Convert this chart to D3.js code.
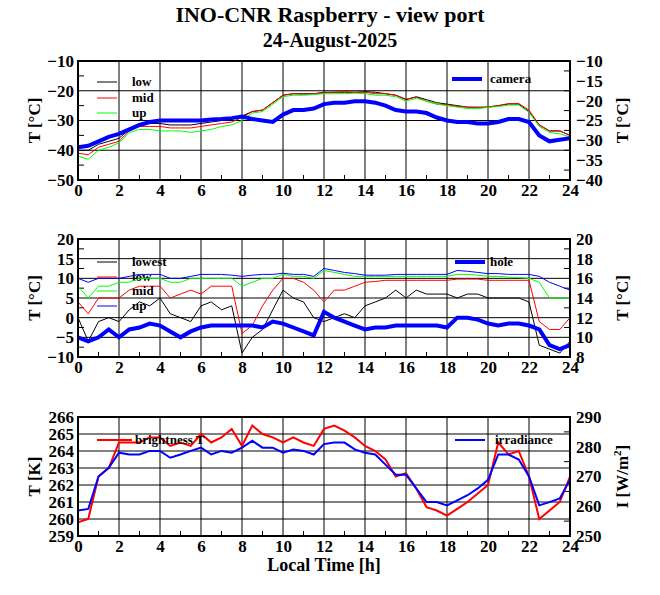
<!DOCTYPE html>
<html><head><meta charset="utf-8">
<script src="https://cdn.jsdelivr.net/npm/d3@7"></script>
<style>body{margin:0;background:#fff}text{font-family:"Liberation Serif",serif;font-weight:bold}</style>
</head><body><div id="chart"></div>
<script>
// hours 0..24, half-hour steps
const hours = d3.range(0, 24.01, 0.5);

// panel 1 (deg C)
const low1   = [-40,-40,-38,-37,-36,-33,-31.5,-31,-31,-31.5,-31.5,-31.5,-31,-30.5,-30,-29.5,-28.5,-27,-26.5,-24,-21.5,-21,-21,-21,-20.5,-20.5,-20.5,-20.5,-20.3,-20.5,-21,-21.5,-23,-22,-23,-24,-24.5,-25,-25.5,-25.5,-25.5,-25,-24.5,-24.5,-27,-31.5,-33.5,-33.5,-35];
const mid1   = [-41,-41.5,-39,-38,-37,-33.5,-32,-32,-32,-32.5,-32.5,-32.5,-32,-31.5,-31,-30.5,-29,-27,-26.5,-24,-21.5,-21,-21.2,-21,-20.7,-20.5,-20.3,-20.5,-20.5,-21,-21,-21.5,-22.8,-22.2,-23.5,-24.5,-24.7,-25.3,-25.5,-25.8,-25.4,-25,-24.3,-24.3,-26.5,-31.5,-33.5,-33.5,-35];
const up1    = [-42,-43,-40,-39,-37.5,-34,-33,-33,-33.5,-33.5,-33.5,-34,-33.5,-33,-32,-31.5,-30,-27.5,-27,-24.5,-22,-21.5,-21.5,-21.3,-21,-21,-21,-20.8,-21,-21.5,-21.5,-22,-23.5,-22.5,-23.5,-24.5,-25,-25.5,-26,-26,-25.6,-25.3,-24.8,-24.8,-27.2,-32,-34,-34.5,-35.5];
const camera = [-39,-38.5,-37,-35.5,-34.5,-33,-31.5,-30.5,-30,-30,-30,-30,-30,-29.7,-29.5,-29.2,-28.7,-29.5,-30,-30.5,-28,-26.5,-26.5,-26,-24.5,-24,-24,-23.5,-23.5,-24,-25,-26.5,-27,-27,-27.5,-29,-30,-30.5,-30.5,-31,-31,-30.5,-29.5,-29.5,-30.5,-35,-37,-36.5,-36];

// panel 2 (deg C)
const lowest2 = [0,-6,-1,0,-1,2,4,3,5,1,0,-1,3,4,2,3,-9,-5,-3,2,7,5,4,0,-1,0,1,0,3,4,5,7,5,7,6,6,6,5,6,6,5,5,5,5,4,-7,-8,-9,-6];
const low2    = [4,1,5,5,5,7,8,8,8,5,6,7,6,8,8,8,-4,-2,3,7,10,10,9,7,4,7,7,8,9,9.2,9.5,9.5,9.5,9.5,9.5,9.5,9.5,9.8,9.8,9.8,9.5,9.5,9.5,9.5,9.5,-1,-3,-3,0];
const mid2    = [8,5,8,8,9,9,10,10,10,9,9,10,10,10,10,10,8,9,10,10,11,10.5,10.5,10,12,11.5,11,10.5,10.5,10.5,10.5,10.5,10.5,10.5,10.5,10.5,10.5,11,11,10.8,10.5,10.5,10.3,10.2,10,9,5,5,5];
const up2     = [10,9,10,10,10,10.5,11,11,11,10,10,10.5,11,11,11,10.8,10.5,10.8,11,11,11.3,11,11,10.5,12.5,12,11.5,11.2,10.8,10.8,10.8,11,11,11,11,11,11,12,11.8,11.5,11.2,11.2,11,11,11,10.5,9,8,7];
const hole    = [-5,-6,-5,-3,-5,-3,-2.5,-1.5,-2,-3.5,-5,-3.5,-2.5,-2,-2,-2,-2,-2,-2.5,-1,-1.5,-2.5,-3.5,-4.5,1.5,0,-1,-2,-3,-2.5,-2.5,-2,-2,-2,-2,-2,-2.5,0,0,-0.5,-1.5,-2,-1.5,-1.5,-2,-3,-7,-8,-7];

// panel 3
const brightness = [259.8,260,262.5,263,264.5,264.5,264.5,264.8,264.8,264.3,264.5,264.3,265,264.5,264.8,265.3,264.3,265.5,265,264.8,264.5,264.8,264.5,264.3,265.3,265.5,265.2,264.8,264.3,264,263.5,262.5,262.7,261.8,260.7,260.5,260.2,260.6,261,261.5,262,264.5,263.8,264,262.5,260,260.5,261,262.5];
const irradiance = [258.6,259.1,270,272.9,278,277.4,277.4,278.6,278.6,276.3,277.4,278.6,279.7,277.4,278.6,278,279.7,282,279.7,279.7,278,279.1,278.6,277.4,280.9,281.4,281.4,279.1,278,277.4,274,270.6,270.6,266,261.4,261.4,260.3,262,263.7,266,268.9,277.4,277.4,275.7,270,260.3,261.4,262.6,268.9];

const xTicks = d3.range(0, 25, 2);

const svg = d3.select('#chart').append('svg').attr('width', 660).attr('height', 595);

svg.append('text').attr('x', 330).attr('y', 22).attr('text-anchor', 'middle').attr('font-size', 22).text('INO-CNR Raspberry - view port');
svg.append('text').attr('x', 330).attr('y', 47).attr('text-anchor', 'middle').attr('font-size', 20).text('24-August-2025');

function panel(o) {
    const x = d3.scaleLinear().domain([0, 24]).range([78, 570]);
    const y = d3.scaleLinear().domain(o.yDom).range([o.bottom, o.top]);
    const y2 = d3.scaleLinear().domain(o.y2Dom).range([o.bottom, o.top]);
    const g = svg.append('g');
    // grid
    g.selectAll('.vg').data(xTicks).enter().append('line')
        .attr('x1', d => x(d)).attr('x2', d => x(d)).attr('y1', o.top).attr('y2', o.bottom)
        .attr('stroke', '#000').attr('stroke-width', 1);
    g.selectAll('.hg').data(o.yTicks).enter().append('line')
        .attr('x1', 78).attr('x2', 570).attr('y1', d => y(d)).attr('y2', d => y(d))
        .attr('stroke', '#000').attr('stroke-width', 1);
    // axes
    const ax = (gen, tr) => {
        const a = g.append('g').attr('transform', tr).call(gen);
        a.select('.domain').remove();
        a.selectAll('text').attr('font-size', 17).attr('fill', '#000');
        return a;
    };
    ax(d3.axisBottom(x).tickValues(xTicks).tickSize(0).tickPadding(4), `translate(0,${o.bottom})`);
    ax(d3.axisLeft(y).tickValues(o.yTicks).tickFormat(d3.format('d')).tickSize(0).tickPadding(4), 'translate(78,0)');
    ax(d3.axisRight(y2).tickValues(o.y2Ticks).tickFormat(d3.format('d')).tickSize(0).tickPadding(6), 'translate(570,0)');
    // minor ticks
    g.selectAll('.mx').data(d3.range(1, 24, 2)).enter().append('line')
        .attr('x1', d => x(d)).attr('x2', d => x(d)).attr('y1', o.bottom).attr('y2', o.bottom - 5).attr('stroke', '#000');
    g.selectAll('.my').data(o.yMinor).enter().append('line')
        .attr('x1', 78).attr('x2', 84).attr('y1', d => y(d)).attr('y2', d => y(d)).attr('stroke', '#000');
    g.selectAll('.my2').data(o.y2Minor).enter().append('line')
        .attr('x1', 564).attr('x2', 570).attr('y1', d => y2(d)).attr('y2', d => y2(d)).attr('stroke', '#000');
    // series
    const clipId = 'c' + o.top;
    svg.append('clipPath').attr('id', clipId).append('rect')
        .attr('x', 78).attr('y', o.top).attr('width', 492).attr('height', o.bottom - o.top);
    o.series.forEach(s => {
        const sc = s.right ? y2 : y;
        g.append('path').datum(s.values).attr('clip-path', `url(#${clipId})`)
            .attr('fill', 'none').attr('stroke', s.color).attr('stroke-width', s.w)
            .attr('d', d3.line().x((d, i) => x(hours[i])).y(d => sc(d)));
        g.append('line').attr('x1', s.lx).attr('x2', s.lx + s.lw).attr('y1', s.ly).attr('y2', s.ly)
            .attr('stroke', s.color).attr('stroke-width', s.w);
        g.append('text').attr('x', s.tx).attr('y', s.ly + 4).attr('font-size', 13).text(s.name);
    });
    g.append('rect').attr('x', 78).attr('y', o.top).attr('width', 492).attr('height', o.bottom - o.top)
        .attr('fill', 'none').attr('stroke', '#000').attr('stroke-width', 2);
    g.append('text').attr('transform', `translate(40,${(o.top + o.bottom) / 2}) rotate(-90)`)
        .attr('text-anchor', 'middle').attr('font-size', 17).text(o.yLabel);
    const t2 = g.append('text').attr('transform', `translate(628,${(o.top + o.bottom) / 2}) rotate(-90)`)
        .attr('text-anchor', 'middle').attr('font-size', 17);
    if (o.y2Sup) {
        t2.append('tspan').text('I [W/m');
        t2.append('tspan').attr('font-size', 11).attr('dy', -7).text('2');
        t2.append('tspan').attr('dy', 7).text(']');
    } else t2.text(o.y2Label);
}

panel({top: 61, bottom: 180, yDom: [-50, -10], y2Dom: [-40, -10],
    yTicks: d3.range(-50, -9, 10), y2Ticks: d3.range(-40, -9, 5),
    yMinor: d3.range(-45, -10, 10), y2Minor: d3.range(-37.5, -10, 5),
    yLabel: 'T [°C]', y2Label: 'T [°C]',
    series: [
        {name: 'low', values: low1, color: '#000', w: 1, lx: 97, lw: 20, tx: 132, ly: 82},
        {name: 'mid', values: mid1, color: '#f00', w: 1, lx: 97, lw: 20, tx: 132, ly: 98},
        {name: 'up', values: up1, color: '#0f0', w: 1, lx: 97, lw: 20, tx: 132, ly: 113},
        {name: 'camera', values: camera, color: '#00f', w: 4, right: false, lx: 452, lw: 30, tx: 490, ly: 79}
    ]});

panel({top: 239, bottom: 357, yDom: [-10, 20], y2Dom: [8, 20],
    yTicks: d3.range(-10, 21, 5), y2Ticks: d3.range(8, 21, 2),
    yMinor: d3.range(-7.5, 20, 5), y2Minor: d3.range(9, 20, 2),
    yLabel: 'T [°C]', y2Label: 'T [°C]',
    series: [
        {name: 'lowest', values: lowest2, color: '#000', w: 1, lx: 97, lw: 20, tx: 132, ly: 262},
        {name: 'low', values: low2, color: '#f00', w: 1, lx: 97, lw: 20, tx: 132, ly: 277},
        {name: 'mid', values: mid2, color: '#0f0', w: 1, lx: 97, lw: 20, tx: 132, ly: 291},
        {name: 'up', values: up2, color: '#00f', w: 1, lx: 97, lw: 20, tx: 132, ly: 306},
        {name: 'hole', values: hole, color: '#00f', w: 4, lx: 455, lw: 30, tx: 490, ly: 262}
    ]});

panel({top: 417, bottom: 536, yDom: [259, 266], y2Dom: [250, 290],
    yTicks: d3.range(259, 267, 1), y2Ticks: d3.range(250, 291, 10),
    yMinor: [], y2Minor: d3.range(255, 290, 10),
    yLabel: 'T [K]', y2Sup: true,
    series: [
        {name: 'brightness T', values: brightness, color: '#f00', w: 2, lx: 97, lw: 35, tx: 135, ly: 440},
        {name: 'irradiance', values: irradiance, color: '#00f', w: 2, right: true, lx: 455, lw: 30, tx: 495, ly: 440}
    ]});

svg.append('text').attr('x', 324).attr('y', 571).attr('text-anchor', 'middle').attr('font-size', 18).text('Local Time [h]');
</script></body></html>
